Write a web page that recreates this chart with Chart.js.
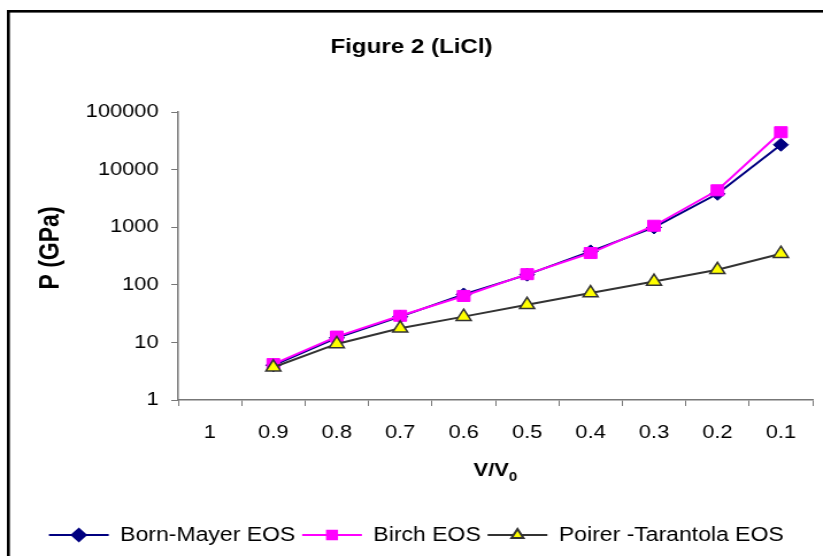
<!DOCTYPE html>
<html>
<head>
<meta charset="utf-8">
<script src="https://cdn.jsdelivr.net/npm/chart.js@4.4.1/dist/chart.umd.min.js"></script>
<style>
  html, body { margin: 0; padding: 0; background: #fff; overflow: hidden; }
  /* the original picture is stretched sideways, so the canvas is too */
  #wrap { width: 716px; height: 556px; transform: scaleX(1.1494); transform-origin: 0 0; }
</style>
</head>
<body>
<div id="wrap"><canvas id="grafico" width="716" height="556"></canvas></div>
<script>
const categorias = ["1", "0.9", "0.8", "0.7", "0.6", "0.5", "0.4", "0.3", "0.2", "0.1"];
const bornMayer = [null, 4.0, 12, 28, 68, 150, 380, 990, 3800, 27000];
const birch = [null, 4.2, 12.6, 29, 64, 153, 356, 1060, 4370, 44600];
const poirerTarantola = [null, 3.7, 9.4, 17.6, 28, 45, 72, 114, 182, 346];
const ticksY = [1, 10, 100, 1000, 10000, 100000];

const fuente = "Arial, 'Liberation Sans', sans-serif";

// fondo blanco + marco negro (solo arriba e izquierda se ven)
const marco = {
  id: "marco",
  beforeDraw(chart) {
    const ctx = chart.ctx;
    ctx.save();
    ctx.fillStyle = "#fff";
    ctx.fillRect(0, 0, chart.width, chart.height);
    ctx.strokeStyle = "#000";
    ctx.lineWidth = 2.6;
    ctx.strokeRect(7.3, 11.3, 2000, 2000);
    ctx.restore();
  },
};

// titulo, titulos de ejes y leyenda
const textos = {
  id: "textos",
  afterDraw(chart) {
    const ctx = chart.ctx;
    const area = chart.chartArea;
    ctx.save();
    ctx.fillStyle = "#000";
    ctx.textAlign = "center";
    ctx.textBaseline = "middle";

    ctx.font = `bold 21px ${fuente}`;
    ctx.fillText("Figure 2 (LiCl)", chart.width / 2, 47);

    // eje y
    ctx.save();
    ctx.translate(45, 248);
    ctx.rotate(-Math.PI / 2);
    ctx.font = `bold 23px ${fuente}`;
    ctx.fillText("P (GPa)", 0, 0);
    ctx.restore();

    // eje x con subindice
    const cx = (area.left + area.right) / 2;
    ctx.font = `bold 19px ${fuente}`;
    const w1 = ctx.measureText("V/V").width;
    ctx.font = `bold 13px ${fuente}`;
    const w2 = ctx.measureText("0").width;
    const x0 = cx - (w1 + w2) / 2;
    ctx.textAlign = "left";
    ctx.font = `bold 19px ${fuente}`;
    ctx.fillText("V/V", x0, 471);
    ctx.font = `bold 13px ${fuente}`;
    ctx.fillText("0", x0 + w1, 477);

    // leyenda
    const y = 535;
    let x = 42.6;
    ctx.font = `20px ${fuente}`;
    chart.data.datasets.forEach((ds) => {
      ctx.strokeStyle = ds.borderColor;
      ctx.lineWidth = 2;
      ctx.beginPath();
      ctx.moveTo(x, y);
      ctx.lineTo(x + 52, y);
      ctx.stroke();
      ctx.fillStyle = ds.pointBackgroundColor;
      ctx.strokeStyle = ds.pointBorderColor;
      Chart.helpers.drawPoint(ctx, {
        pointStyle: ds.pointStyle,
        radius: ds.legendRadius,
        rotation: 0,
        borderWidth: ds.pointBorderWidth,
      }, x + 26, y);
      ctx.fillStyle = "#000";
      ctx.fillText(ds.label, x + 62, y);
      x += 62 + ctx.measureText(ds.label).width + 6;
    });
    ctx.restore();
  },
};

const ctx = document.getElementById("grafico").getContext("2d");
new Chart(ctx, {
  type: "line",
  data: {
    labels: categorias,
    datasets: [
      {
        label: "Born-Mayer EOS",
        data: bornMayer,
        borderColor: "#000080",
        borderWidth: 2,
        pointStyle: "rectRot",
        pointRadius: 6.5,
        pointBackgroundColor: "#000080",
        pointBorderColor: "#000080",
        pointBorderWidth: 1,
        legendRadius: 6,
        order: 3,
      },
      {
        label: "Birch EOS",
        data: birch,
        borderColor: "#FF00FF",
        borderWidth: 2,
        pointStyle: "rect",
        pointRadius: 7.8,
        pointBackgroundColor: "#FF00FF",
        pointBorderColor: "#FF00FF",
        pointBorderWidth: 1,
        legendRadius: 6,
        order: 2,
      },
      {
        label: "Poirer -Tarantola EOS",
        data: poirerTarantola,
        borderColor: "#333333",
        borderWidth: 2,
        pointStyle: "triangle",
        pointRadius: 7.5,
        pointBackgroundColor: "#FFFF00",
        pointBorderColor: "#333333",
        pointBorderWidth: 1.5,
        legendRadius: 6,
        order: 1,
      },
    ],
  },
  options: {
    responsive: false,
    animation: false,
    devicePixelRatio: 1,
    layout: { padding: { left: 0, right: 8.7, top: 112, bottom: 0 } },
    plugins: {
      legend: { display: false },
      title: { display: false },
      tooltip: { enabled: false },
    },
    scales: {
      x: {
        type: "category",
        offset: true,
        grid: { offset: true, drawOnChartArea: false, tickLength: 6, color: "#777" },
        border: { color: "#777", width: 1.5 },
        ticks: {
          color: "#000",
          font: { family: fuente, size: 19 },
          padding: 15,
          maxRotation: 0,
          autoSkip: false,
        },
        afterFit: (s) => { s.height = 156; },
      },
      y: {
        type: "logarithmic",
        min: 1,
        max: 100000,
        grid: { drawOnChartArea: false, tickLength: 6, color: "#777" },
        border: { color: "#777", width: 1.5 },
        ticks: {
          color: "#000",
          font: { family: fuente, size: 19 },
          padding: 11,
          callback: (v) => (ticksY.includes(v) ? String(v) : ""),
        },
        afterBuildTicks: (s) => { s.ticks = ticksY.map((v) => ({ value: v })); },
        afterFit: (s) => { s.width = 155; },
      },
    },
  },
  plugins: [marco, textos],
});
</script>
</body>
</html>
